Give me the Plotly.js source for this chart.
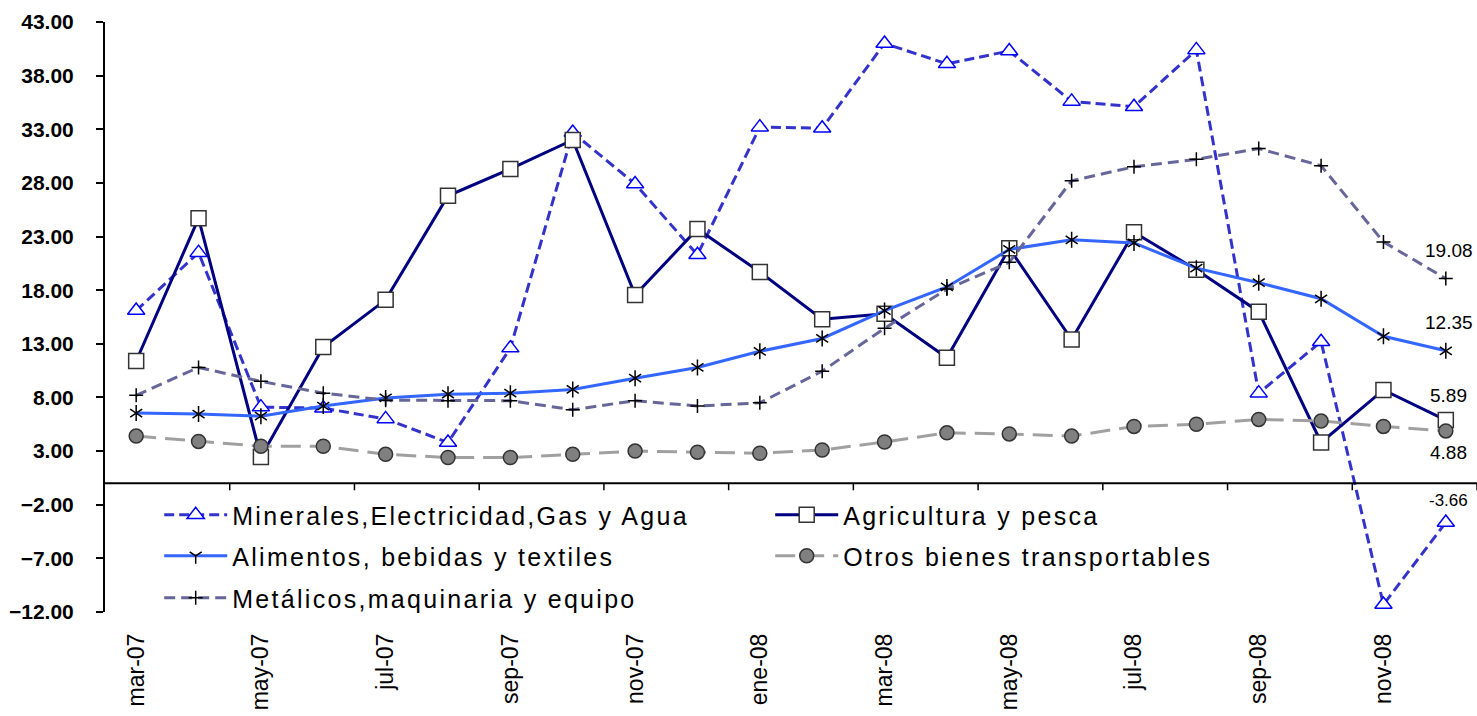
<!DOCTYPE html>
<html>
<head>
<meta charset="utf-8">
<script src="https://cdn.plot.ly/plotly-3.0.1.min.js"></script>
<style>
  html, body { margin: 0; padding: 0; background: #fff; }
  #chart { width: 1477px; height: 716px; }
  text.legendtext, g.legend text, g.legend2 text, g.legend3 text { letter-spacing: 2.3px !important; }
</style>
</head>
<body>
<div id="chart"></div>
<script>
// ---- Data ----
const months = ['mar-07','abr-07','may-07','jun-07','jul-07','ago-07','sep-07','oct-07','nov-07','dic-07',
                'ene-08','feb-08','mar-08','abr-08','may-08','jun-08','jul-08','ago-08','sep-08','oct-08','nov-08','dic-08'];
const tickMonths = ['mar-07','may-07','jul-07','sep-07','nov-07','ene-08','mar-08','may-08','jul-08','sep-08','nov-08'];

const minerales = [16.1, 21.5, 7.1, 7.0, 6.0, 3.8, 12.6, 32.7, 27.9, 21.3,
                   33.2, 33.1, 41.0, 39.1, 40.3, 35.6, 35.1, 40.4, 8.4, 13.2, -11.3, -3.66];
const agricultura = [11.4, 24.7, 2.45, 12.7, 17.1, 26.8, 29.3, 32.0, 17.55, 23.7,
                     19.7, 15.3, 15.8, 11.7, 21.9, 13.4, 23.4, 19.9, 16.0, 3.8, 8.7, 5.89];
const alimentos = [6.55, 6.45, 6.25, 7.2, 7.95, 8.3, 8.4, 8.75, 9.8, 10.8,
                   12.3, 13.5, 16.1, 18.3, 21.8, 22.7, 22.4, 20.05, 18.7, 17.2, 13.7, 12.35];
const otros = [4.4, 3.9, 3.45, 3.45, 2.7, 2.4, 2.4, 2.7, 3.0, 2.9,
               2.8, 3.1, 3.85, 4.7, 4.6, 4.4, 5.3, 5.5, 5.95, 5.8, 5.3, 4.88];
const metalicos = [8.2, 10.8, 9.5, 8.4, 7.75, 7.7, 7.7, 6.85, 7.7, 7.2,
                   7.5, 10.45, 14.45, 18.1, 20.6, 28.2, 29.5, 30.2, 31.2, 29.6, 22.5, 19.08];

const names = ['Minerales,Electricidad,Gas y Agua', 'Agricultura y pesca', 'Alimentos, bebidas y textiles',
               'Otros bienes transportables', 'Metálicos,maquinaria y equipo'];

const FONT = 'Liberation Sans, Arial, sans-serif';

const traces = [
  {
    x: months, y: minerales, name: names[0], legend: 'legend', type: 'scatter', mode: 'lines+markers', cliponaxis: false,
    line: {color: '#3333CC', width: 3, dash: '10px,5px'},
    marker: {symbol: 'triangle-up', size: 15, color: '#FFFFFF', line: {color: '#0000FF', width: 1.5}}
  },
  {
    x: months, y: agricultura, name: names[1], legend: 'legend', type: 'scatter', mode: 'lines+markers', cliponaxis: false,
    line: {color: '#000080', width: 3},
    marker: {symbol: 'square', size: 15, color: '#FFFFFF', line: {color: '#333333', width: 1.5}}
  },
  {
    x: months, y: alimentos, name: names[2], legend: 'legend2', type: 'scatter', mode: 'lines+markers', cliponaxis: false,
    line: {color: '#3366FF', width: 3},
    marker: {symbol: 'y-down-open', size: 10, color: '#000000', line: {color: '#000000', width: 1.5}}
  },
  {
    x: months, y: alimentos, name: names[2], type: 'scatter', mode: 'markers', showlegend: false, hoverinfo: 'skip', cliponaxis: false,
    marker: {symbol: 'y-up-open', size: 10, color: '#000000', line: {color: '#000000', width: 1.5}}
  },
  {
    x: months, y: otros, name: names[3], legend: 'legend2', type: 'scatter', mode: 'lines+markers', cliponaxis: false,
    line: {color: '#A0A0A0', width: 3, dash: '20px,9px'},
    marker: {symbol: 'circle', size: 14, color: '#808080', line: {color: '#333333', width: 1.5}}
  },
  {
    x: months, y: metalicos, name: names[4], legend: 'legend3', type: 'scatter', mode: 'lines+markers', cliponaxis: false,
    line: {color: '#666699', width: 3, dash: '11px,6px'},
    marker: {symbol: 'cross-thin-open', size: 10, color: '#000000', line: {color: '#000000', width: 1.5}}
  }
];

const last = months.length - 1;
function lab(series, yshift, size) {
  return {
    x: months[last], y: series[last], xref: 'x', yref: 'y',
    text: series[last].toFixed(2), showarrow: false, yshift: yshift, xshift: 3,
    font: {family: FONT, size: size, color: '#000000'}
  };
}

// boundary tick marks every two months along the zero line
const shapes = [{
  type: 'line', xref: 'paper', yref: 'y', x0: 0, x1: 1, y0: 0, y1: 0,
  line: {color: '#000000', width: 2}
}];
for (let k = 1; k <= 11; k++) {
  shapes.push({
    type: 'line', xref: 'paper', yref: 'y', ysizemode: 'pixel', yanchor: 0,
    x0: (2 * k) / months.length, x1: (2 * k) / months.length, y0: 0, y1: -7,
    line: {color: '#000000', width: 1.5}
  });
}

function legendRow(yPaper) {
  return {
    orientation: 'h', x: 0.0395, y: yPaper, xanchor: 'left', yanchor: 'middle',
    entrywidth: 533, entrywidthmode: 'pixels', itemwidth: 63,
    bgcolor: 'rgba(0,0,0,0)', borderwidth: 0,
    font: {family: FONT, size: 25, color: '#000000'},
    traceorder: 'normal'
  };
}

const layout = {
  width: 1477, height: 716,
  margin: {l: 105, r: 0, t: 22, b: 104},
  paper_bgcolor: '#FFFFFF', plot_bgcolor: '#FFFFFF',
  font: {family: FONT, color: '#000000'},
  showlegend: true,
  legend: legendRow(0.1644),
  legend2: legendRow(0.0949),
  legend3: legendRow(0.0237),
  xaxis: {
    type: 'category', categoryorder: 'array', categoryarray: months,
    range: [-0.5, 21.5],
    tickmode: 'array', tickvals: tickMonths, ticktext: tickMonths,
    tickangle: -90, ticks: '', showline: false, showgrid: false, zeroline: false,
    ticklabelstandoff: 16,
    tickfont: {family: FONT, size: 23, color: '#000000'}
  },
  yaxis: {
    range: [-12, 43], tickmode: 'linear', tick0: -12, dtick: 5, tickformat: '.2f',
    ticks: 'outside', ticklen: 7, tickwidth: 1.5, tickcolor: '#000000',
    showline: true, linewidth: 2, linecolor: '#000000',
    showgrid: false, zeroline: false,
    ticklabelstandoff: 18,
    tickfont: {family: FONT, size: 21, color: '#000000', weight: 'bold'}
  },
  shapes: shapes,
  annotations: [
    lab(metalicos, 28, 19),
    lab(alimentos, 28, 19),
    lab(agricultura, 25, 19),
    lab(otros, -22, 19),
    lab(minerales, 22, 17)
  ]
};

function spaceLegendText() {
  document.querySelectorAll('#chart text.legendtext').forEach(function (t) {
    t.style.letterSpacing = '2.3px';
  });
}

Plotly.newPlot('chart', traces, layout, {displayModeBar: false, responsive: false}).then(spaceLegendText);
</script>
</body>
</html>
